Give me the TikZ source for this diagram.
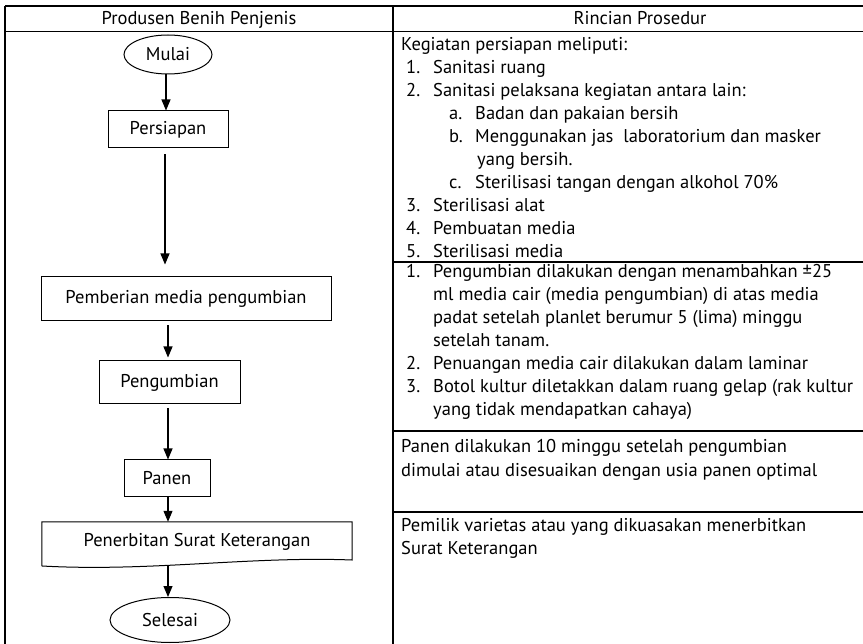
\documentclass[tikz,border=0pt]{standalone}
\usepackage{fontspec}
\setmainfont{PT Sans}
\usetikzlibrary{arrows.meta,shapes.geometric}
\begin{document}
\begin{tikzpicture}[x=1pt,y=-1pt,
  tline/.style={line width=1.2pt},
  fnt/.style={font=\fontsize{18.5}{22}\selectfont},
  fbox/.style={draw, line width=1pt, inner sep=0pt, fnt},
  term/.style={draw, ellipse, line width=1pt, inner sep=0pt, fnt},
  arr/.style={line width=1.1pt, -{Triangle[length=11pt,width=9pt]}},
  txt/.style={anchor=base west, inner sep=0pt, fnt},
  hdr/.style={anchor=base, inner sep=0pt, fnt}]
\useasboundingbox (0,0) rectangle (863,644);
% table
\draw[tline] (5,6) -- (863,6);
\draw[tline] (5,31.5) -- (863,31.5);
\draw[tline] (5,6) -- (5,644);
\draw[tline] (393,6) -- (393,644);
\draw[tline] (393,262) -- (863,262);
\draw[tline] (393,431) -- (863,431);
\draw[tline] (393,512) -- (863,512);
\node[hdr] (h1) at (199,25) {Produsen Benih Penjenis};
\node[hdr] (h2) at (640,25) {Rincian Prosedur};
% flowchart
\node[term, minimum width=88pt, minimum height=39pt] (mulai) at (168,54.5) {Mulai};
\node[fbox, minimum width=120pt, minimum height=37pt] (pers) at (168,129.5) {Persiapan\hspace{10pt}};
\node[fbox, minimum width=290pt, minimum height=44pt] (pemb) at (186,299) {Pemberian media pengumbian\hspace{12pt}};
\node[fbox, minimum width=141pt, minimum height=43pt] (peng) at (169.5,382.5) {Pengumbian\hspace{10pt}};
\node[fbox, minimum width=86pt, minimum height=37pt] (panen) at (167,478.5) {Panen};
\node[inner sep=0pt, minimum width=310pt, minimum height=40pt, fnt] (doc) at (197,542) {Penerbitan Surat Keterangan};
\draw[line width=1pt] (doc.north west) -- (doc.north east) -- (352,560)
  .. controls (250,556) and (150,572) .. (42,566) -- cycle;
\coordinate (docb) at (168,566);
\node[term, minimum width=120pt, minimum height=45pt] (sel) at (170,620) {Selesai\hspace{10pt}};
\draw[arr] (mulai.south -| 166,0) -- (pers.north -| 166,0);
\draw[arr, shorten <=6pt, shorten >=12pt] (pers.south -| 165,0) -- (pemb.north -| 165,0);
\draw[arr, shorten <=4pt, shorten >=3pt] (pemb.south -| 168,0) -- (peng.north -| 168,0);
\draw[arr, shorten <=4pt] (peng.south -| 168,0) -- (panen.north -| 168,0);
\draw[arr] (panen.south -| 168,0) -- (doc.north -| 168,0);
\draw[arr] (docb) -- (sel.north -| 168,0);
% right column text
\node[txt] (a0) at (401,51) {Kegiatan persiapan meliputi:};
\node[txt] (a1n) at (406,74) {1.}; \node[txt] (a1) at (433,74) {Sanitasi ruang};
\node[txt] (a2n) at (406,97) {2.}; \node[txt] (a2) at (433,97) {Sanitasi pelaksana kegiatan antara lain:};
\node[txt] (a3n) at (449,120) {a.}; \node[txt] (a3) at (475,120) {Badan dan pakaian bersih};
\node[txt] (a4n) at (449,143) {b.}; \node[txt] (a4) at (475,143) {Menggunakan jas\ \ laboratorium dan masker};
\node[txt] (a5) at (477,166) {yang bersih.};
\node[txt] (a6n) at (449,189) {c.}; \node[txt] (a6) at (475,189) {Sterilisasi tangan dengan alkohol 70\%};
\node[txt] (a7n) at (406,212) {3.}; \node[txt] (a7) at (433,212) {Sterilisasi alat};
\node[txt] (a8n) at (406,235) {4.}; \node[txt] (a8) at (433,235) {Pembuatan media};
\node[txt] (a9n) at (406,258) {5.}; \node[txt] (a9) at (433,258) {Sterilisasi media};
\node[txt] (b1n) at (406,278) {1.}; \node[txt] (b1) at (433,278) {Pengumbian dilakukan dengan menambahkan ±25};
\node[txt] (b2) at (433,301) {ml media cair (media pengumbian) di atas media};
\node[txt] (b3) at (433,324) {padat setelah planlet berumur 5 (lima) minggu};
\node[txt] (b4) at (433,347) {setelah tanam.};
\node[txt] (b5n) at (406,370) {2.}; \node[txt] (b5) at (433,370) {Penuangan media cair dilakukan dalam laminar};
\node[txt] (b6n) at (406,393) {3.}; \node[txt] (b6) at (433,393) {Botol kultur diletakkan dalam ruang gelap (rak kultur};
\node[txt] (b7) at (433,416) {yang tidak mendapatkan cahaya)};
\node[txt] (c1) at (401,453) {Panen dilakukan 10 minggu setelah pengumbian};
\node[txt] (c2) at (401,476) {dimulai atau disesuaikan dengan usia panen optimal};
\node[txt] (d1) at (401,531) {Pemilik varietas atau yang dikuasakan menerbitkan};
\node[txt] (d2) at (401,554) {Surat Keterangan};
\end{tikzpicture}
\end{document}
